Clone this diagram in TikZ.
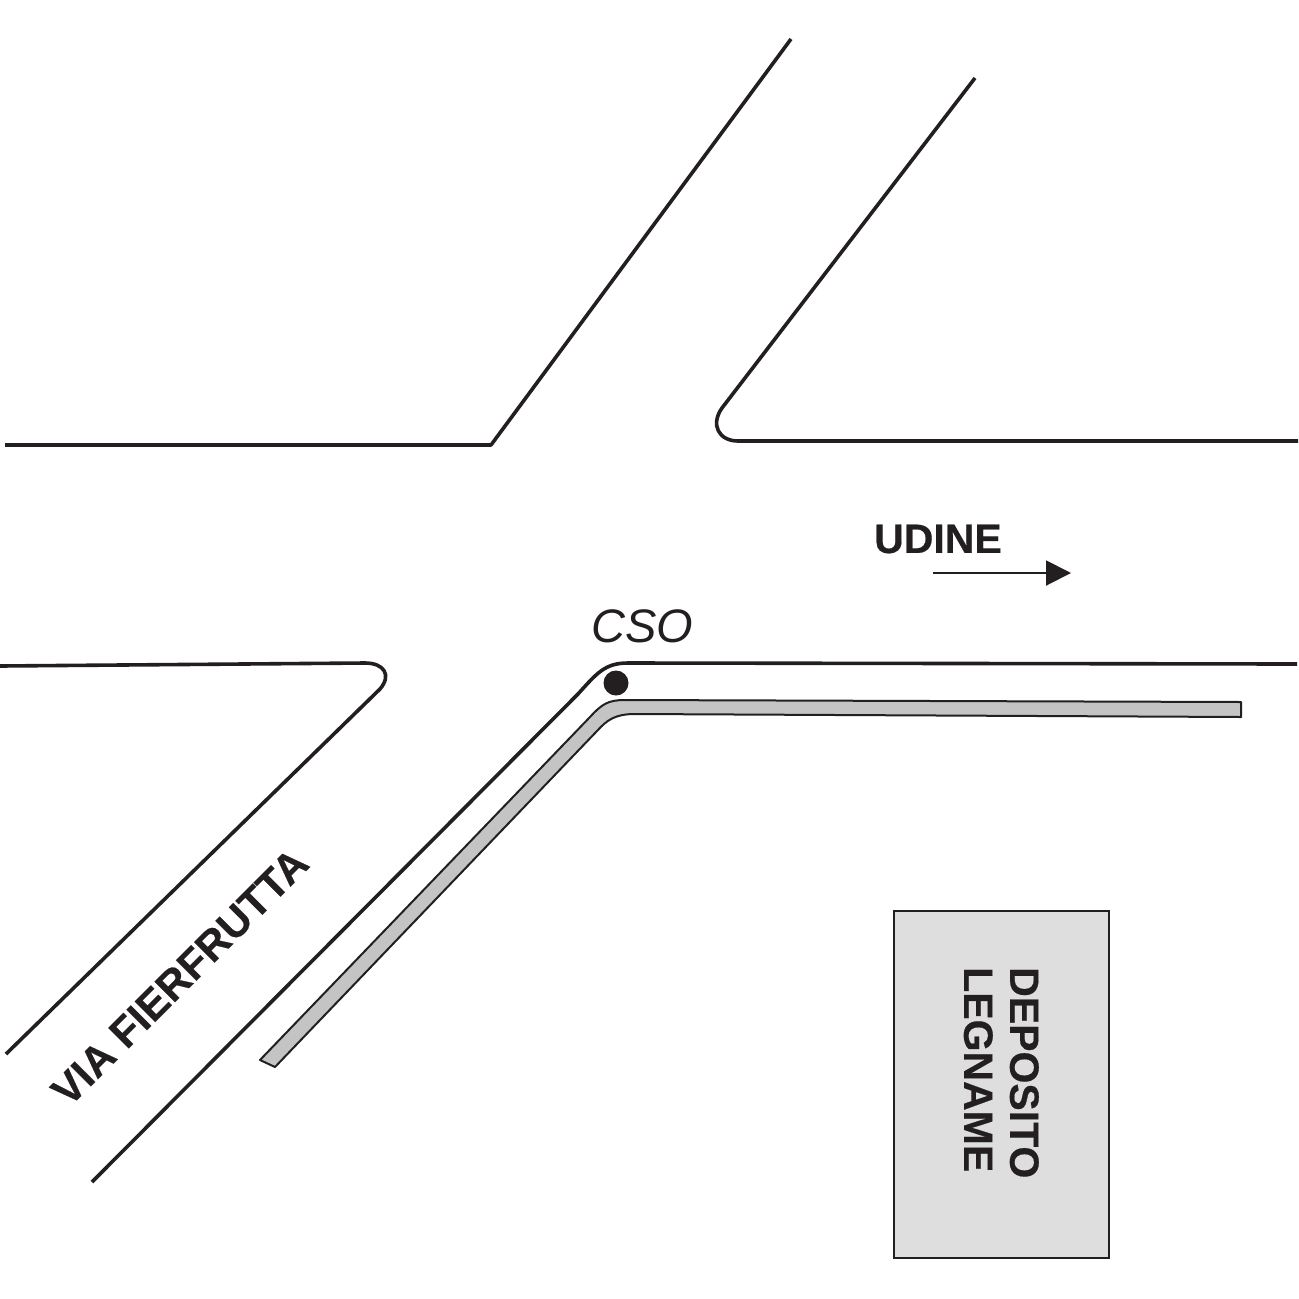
\documentclass[tikz,border=0pt]{standalone}
\usepackage{fontspec}
\setmainfont{Liberation Sans}
\usetikzlibrary{arrows.meta}
\definecolor{inkblack}{HTML}{231F20}
\definecolor{stripgray}{HTML}{C4C4C4}
\definecolor{depotgray}{HTML}{DEDEDE}
\tikzset{
	road/.style={draw=inkblack,line width=3.6pt,line join=round},
	boldlabel/.style={inkblack,inner sep=0pt,font=\fontsize{41}{41}\selectfont\bfseries\addfontfeature{FakeBold=0.4}}
}

\begin{document}
\begin{tikzpicture}[x=1pt,y=-1pt]
	\useasboundingbox (0,0) rectangle (1299,1299);
	\fill[white] (0,0) rectangle (1299,1299);
	% roads
	\draw[road] (5,445) -- (491,445) -- (791,39);
	\draw[road] (975,78) -- (722,408) .. controls (710,425) and (719,441) .. (738,441) -- (1298,441);
	\draw[road] (0,666) -- (365,663) .. controls (384,663) and (392,675) .. (380,689) -- (6,1054);
	\draw[road] (92,1182) -- (578,694) .. controls (597,673) and (605,663) .. (628,663) -- (1297,664);
	% strip and depot
	\draw[draw=inkblack,fill=stripgray,line width=2pt,line join=round] (260,1060) -- (590,717) .. controls (602,704) and (608,700) .. (625,700) -- (1241,702) -- (1241,717) -- (635,714) .. controls (615,714) and (607,720) .. (597,731) -- (275,1067) -- cycle;
	\node[draw=inkblack,fill=depotgray,line width=2pt,minimum width=215pt,minimum height=347pt,inner sep=0pt] (depot) at (1001,1084) {};
	\node[boldlabel,rotate=-90,anchor=north west] (deposito) at (1039,967) {DEPOSITO};
	\node[boldlabel,rotate=-90,anchor=north west] (legname) at (993,967) {LEGNAME};
	% labels
	\fill[inkblack] (616,683) circle (12.5);
	\node[inkblack,inner sep=0pt,font=\fontsize{47}{47}\selectfont\itshape] (cso) at (642,626) {CSO};
	\node[boldlabel] (udine) at (938,539) {UDINE};
	\coordinate (from) at (933,573);
	\coordinate (to) at (1071,573);
	\draw[inkblack,line width=2pt,-{Triangle[length=25pt,width=25pt]}] (from) -- (to);
	\node[boldlabel,font=\fontsize{42}{42}\selectfont\bfseries\addfontfeature{FakeBold=0.4},rotate=45] (fierfrutta) at (180,977) {VIA FIERFRUTTA};
\end{tikzpicture}
\end{document}
